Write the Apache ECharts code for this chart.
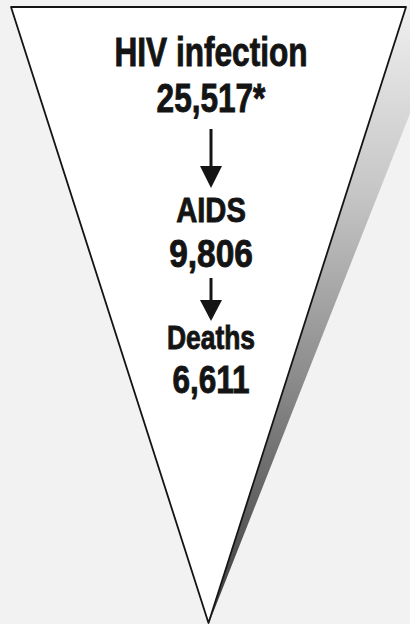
<!DOCTYPE html>
<html><head><meta charset="utf-8">
<script src="https://cdn.jsdelivr.net/npm/echarts@6/dist/echarts.min.js"></script>
<style>html,body{margin:0;padding:0;background:#f2f2f2;}#c{width:410px;height:624px;}</style>
</head><body><div id="c"></div>
<script>
// ---- data ----
const stages = ['HIV infection', 'AIDS', 'Deaths'];
const counts = [25517, 9806, 6611];
const marks = ['*', '', ''];

// ---- layout / style ----
const FONT = '"Liberation Sans", Arial, sans-serif';
const cx = 211;
// [centerY, fontSize, scaleX]
const nameLayout = [[52, 40, 0.79], [209, 36, 0.81], [337, 33, 0.8]];
const valueLayout = [[98, 41, 0.77], [254, 38, 0.88], [379, 38, 0.83]];
const arrowLayout = [[129, 166, 188], [278, 300, 321]];

const chart = echarts.init(document.getElementById('c'), null, { renderer: 'svg' });

function txt(str, y, size, sx) {
  return {
    type: 'text', x: cx, y: y, scaleX: sx, z: 100,
    style: {
      text: str, x: 0, y: 0,
      align: 'center', verticalAlign: 'middle',
      textAlign: 'center', textVerticalAlign: 'middle',
      font: 'bold ' + size + 'px ' + FONT, fill: '#141414',
      stroke: '#141414', lineWidth: 0.9
    }
  };
}

const elements = [];
// shaded edge of the cone
elements.push({
  type: 'polygon', z: 0,
  shape: { points: [[209, 623], [406, 7], [452, 7]] },
  style: {
    fill: new echarts.graphic.LinearGradient(0, 0, 0, 1, [
      { offset: 0, color: '#efefef' },
      { offset: 0.3, color: '#c6c6c6' },
      { offset: 0.6, color: '#8c8c8c' },
      { offset: 1, color: '#3a3a3a' }
    ])
  }
});
stages.forEach(function (s, i) {
  elements.push(txt(s, nameLayout[i][0], nameLayout[i][1], nameLayout[i][2]));
  elements.push(txt(counts[i].toLocaleString('en-US') + marks[i], valueLayout[i][0], valueLayout[i][1], valueLayout[i][2]));
});
arrowLayout.forEach(function (a) {
  elements.push({ type: 'line', z: 100, shape: { x1: cx, y1: a[0], x2: cx, y2: a[1] + 2 }, style: { stroke: '#141414', lineWidth: 3 } });
  elements.push({ type: 'polygon', z: 100, shape: { points: [[cx - 11, a[1]], [cx + 11, a[1]], [cx, a[2]]] }, style: { fill: '#141414' } });
});

chart.setOption({
  backgroundColor: '#f2f2f2',
  animation: false,
  graphic: { elements: elements },
  series: [{
    type: 'funnel',
    left: 11, top: 7, width: 395, height: 616,
    min: 0, max: counts[0],
    minSize: '0%', maxSize: '100%',
    sort: 'descending', gap: 0,
    z: 5,
    label: { show: false },
    labelLine: { show: false },
    emphasis: { disabled: true },
    itemStyle: { color: '#ffffff', borderColor: '#141414', borderWidth: 1.8 },
    data: [{ name: stages[0], value: counts[0] }]
  }]
});
</script>
</body></html>
